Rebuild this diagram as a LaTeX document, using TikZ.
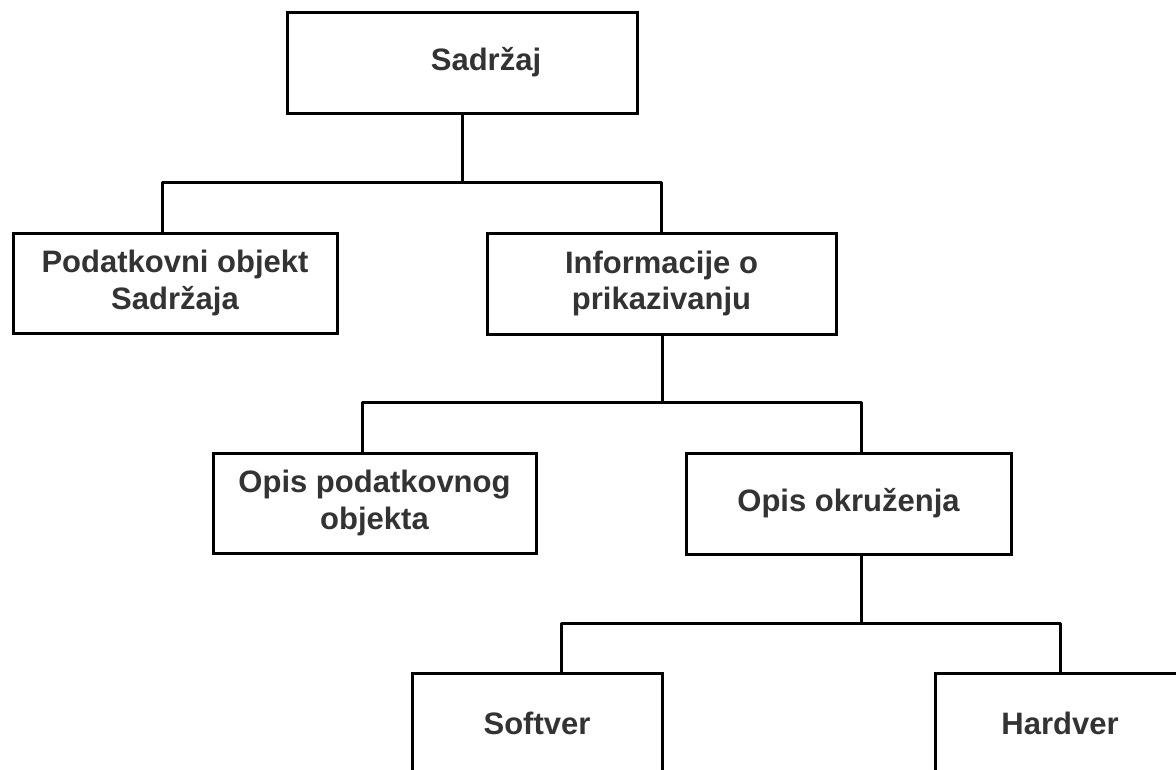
\documentclass[tikz,border=0pt]{standalone}
\usepackage{fontspec}
\setmainfont{Liberation Sans}
\definecolor{txt}{HTML}{333333}
\begin{document}
\begin{tikzpicture}[x=1pt,y=-1pt,
  box/.style={draw=black,line width=3pt,fill=white,inner sep=0pt,
    text=txt,font=\fontsize{31}{36.7}\selectfont\bfseries,align=center},
  conn/.style={draw=black,line width=3pt,line join=round}]
\clip (0,0) rectangle (1176,769);
\fill[white] (0,0) rectangle (1176,769);
% nodes
\node[box,minimum width=350pt,minimum height=101pt] (root) at (462,62.5) {\hspace*{48pt}Sadržaj};
\node[box,minimum width=324pt,minimum height=100pt] (pod) at (175,283) {Podatkovni objekt\\Sadržaja};
\node[box,minimum width=349pt,minimum height=101pt] (inf) at (661.5,283.5) {Informacije o\\prikazivanju};
\node[box,minimum width=323pt,minimum height=100pt] (opd) at (374.5,503) {Opis podatkovnog\\objekta};
\node[box,minimum width=325pt,minimum height=101pt] (opo) at (848.5,503.5) {Opis okruženja};
\node[box,minimum width=250pt,minimum height=100pt] (sof) at (537,723) {Softver};
\node[box,minimum width=250pt,minimum height=100pt] (har) at (1060,723) {Hardver};
% junction coordinates
\coordinate (a1) at (462,182);
\coordinate (a1l) at (162,182);
\coordinate (a1r) at (661,182);
\coordinate (a2) at (662,402);
\coordinate (a2l) at (362,402);
\coordinate (a2r) at (861,402);
\coordinate (a3) at (861,623);
\coordinate (a3l) at (561,623);
\coordinate (a3r) at (1060,623);
% connectors
\draw[conn] (root.south -| a1) -- (a1);
\draw[conn] (a1l |- pod.north) -- (a1l) -- (a1r) -- (a1r |- inf.north);
\draw[conn] (inf.south -| a2) -- (a2);
\draw[conn] (a2l |- opd.north) -- (a2l) -- (a2r) -- (a2r |- opo.north);
\draw[conn] (opo.south -| a3) -- (a3);
\draw[conn] (a3l |- sof.north) -- (a3l) -- (a3r) -- (a3r |- har.north);
\end{tikzpicture}
\end{document}
